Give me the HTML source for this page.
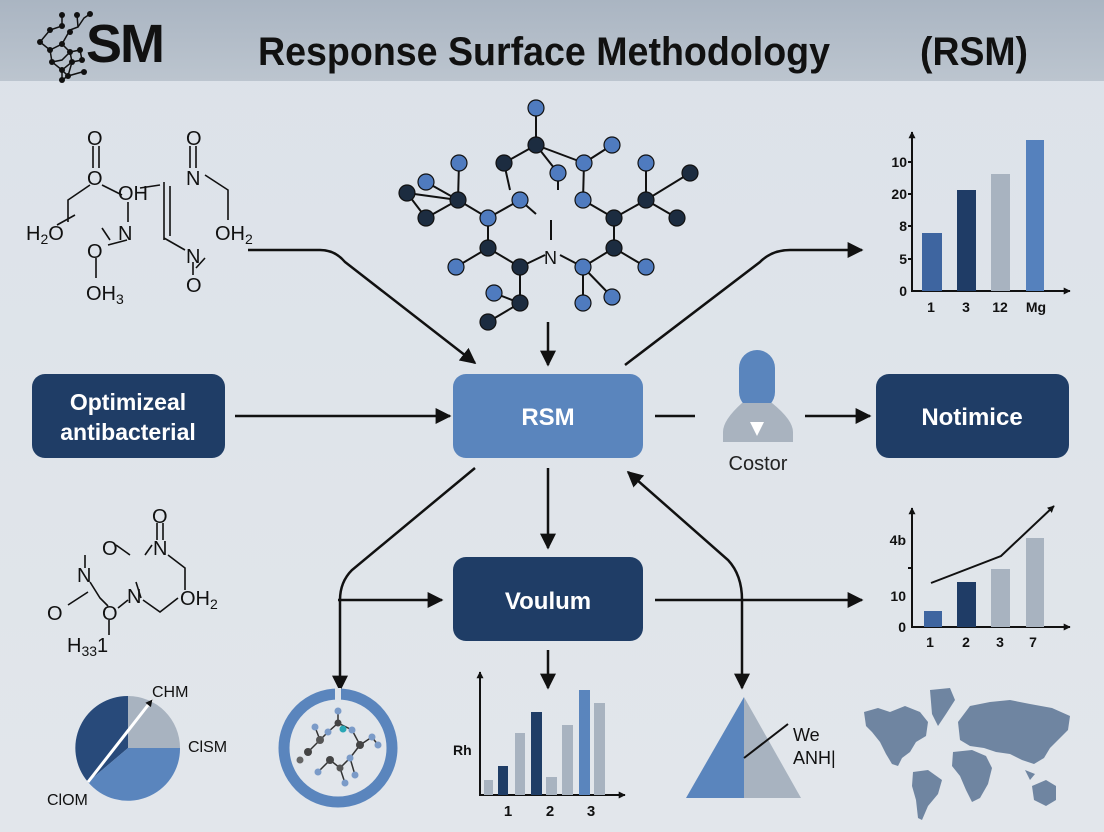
<!DOCTYPE html>
<html><head><meta charset="utf-8"><style>
html,body{margin:0;padding:0;width:1104px;height:832px;overflow:hidden;background:#dfe4ea}
svg{display:block}
text{font-family:"Liberation Sans",sans-serif}
</style></head><body>
<svg width="1104" height="832" viewBox="0 0 1104 832" xmlns="http://www.w3.org/2000/svg">
<defs>
<linearGradient id="hd" x1="0" y1="0" x2="0" y2="1"><stop offset="0" stop-color="#aab5c2"/><stop offset="1" stop-color="#bcc5cf"/></linearGradient>
<linearGradient id="bg" x1="0" y1="0" x2="0" y2="1"><stop offset="0" stop-color="#dce2e9"/><stop offset="1" stop-color="#e2e6eb"/></linearGradient>
<marker id="ah" viewBox="0 0 10 10" refX="9" refY="5" markerWidth="7" markerHeight="7" orient="auto-start-reverse" markerUnits="userSpaceOnUse"><path d="M0,0 L10,5 L0,10 z" fill="#111"/></marker>
<marker id="ab" viewBox="0 0 10 10" refX="9" refY="5" markerWidth="16" markerHeight="16" orient="auto-start-reverse" markerUnits="userSpaceOnUse"><path d="M0,0 L10,5 L0,10 z" fill="#111"/></marker>
</defs>
<rect width="1104" height="832" fill="url(#bg)"/>
<rect width="1104" height="81" fill="url(#hd)"/>
<!-- logo -->
<g stroke="#111" stroke-width="1.5" fill="none">
<path d="M62,15 L62,26 L50,30 L40,42 L50,50 L62,44 L70,30 M77,15 L78,27 L70,30 M90,14 L84,18 L78,27 M50,50 L52,62 L62,70 L62,80 M62,44 L70,52 L80,50 M52,62 L62,60 L70,52 L72,62 L62,70 L68,76 L72,62 M80,50 L82,60 L72,62 M62,80 L68,76 L82,72"/>
</g>
<g fill="#111">
<circle cx="62" cy="15" r="3"/><circle cx="77" cy="15" r="3"/><circle cx="90" cy="14" r="3"/><circle cx="62" cy="26" r="3"/><circle cx="50" cy="30" r="3"/><circle cx="70" cy="32" r="3"/><circle cx="40" cy="42" r="3"/><circle cx="50" cy="50" r="3"/><circle cx="62" cy="44" r="3"/><circle cx="80" cy="50" r="3"/><circle cx="52" cy="62" r="3"/><circle cx="70" cy="52" r="3"/><circle cx="72" cy="62" r="3"/><circle cx="62" cy="70" r="3"/><circle cx="82" cy="60" r="3"/><circle cx="68" cy="76" r="3"/><circle cx="62" cy="80" r="3"/><circle cx="84" cy="72" r="3"/>
</g>
<text x="86" y="62" font-size="54" font-weight="bold" fill="#111" letter-spacing="-2">SM</text>
<text x="258" y="65" font-size="40" fill="#111" font-weight="bold" textLength="572" lengthAdjust="spacingAndGlyphs">Response Surface Methodology</text>
<text x="920" y="65" font-size="40" fill="#111" font-weight="bold" textLength="108" lengthAdjust="spacingAndGlyphs">(RSM)</text>

<!-- top-left molecule -->
<g stroke="#111" stroke-width="1.6" fill="none">
<path d="M93,146 L93,168 M99,146 L99,168 M90,185 L68,200 L68,222 M102,185 L122,195 M128,202 L128,222 M102,228 L110,240 M127,240 L108,245 M96,258 L96,278 M140,188 L160,185 M164,182 L164,240 M170,186 L170,236 M164,238 L185,250 M190,146 L190,168 M196,146 L196,168 M205,175 L228,190 L228,220 M205,258 L196,268 M193,262 L193,275 M57,225 L75,215"/>
</g>
<g font-size="20" fill="#111">
<text x="87" y="145">O</text><text x="87" y="185">O</text><text x="118" y="200">OH</text><text x="186" y="185">N</text><text x="186" y="145">O</text>
<text x="26" y="240">H<tspan font-size="14" dy="4">2</tspan><tspan dy="-4">O</tspan></text><text x="118" y="240">N</text><text x="215" y="240">OH<tspan font-size="14" dy="4">2</tspan></text>
<text x="87" y="258">O</text><text x="186" y="263">N</text><text x="86" y="300">OH<tspan font-size="14" dy="4">3</tspan></text><text x="186" y="292">O</text>
</g>

<!-- top-center molecule -->
<g stroke="#111" stroke-width="2" fill="none">
<path d="M536,108 L536,145 L504,163 M536,145 L584,163 M536,145 L558,173 M612,145 L584,163 M584,163 L583,200 M558,173 L558,190 M646,163 L646,200 L690,173 M646,200 L677,218 M646,200 L614,218 M426,182 L458,200 L459,163 M407,193 L458,200 M426,218 L458,200 M407,193 L426,218 M458,200 L488,218 L520,200 M583,200 L614,218 M520,200 L536,214 M488,218 L488,248 L456,267 M488,248 L520,267 L545,255 M614,218 L614,248 L583,267 M614,248 L646,267 M560,255 L583,267 M551,240 L551,220 M520,267 L520,303 L494,293 M520,303 L488,322 M583,267 L583,303 M583,267 L612,297 M504,163 L510,190"/>
</g>
<text x="544" y="264" font-size="18" fill="#111">N</text>
<g stroke="#111" stroke-width="1.2">
<circle cx="536" cy="108" r="8" fill="#4f7bbf"/><circle cx="536" cy="145" r="8" fill="#1c2c40"/><circle cx="504" cy="163" r="8" fill="#1c2c40"/><circle cx="612" cy="145" r="8" fill="#4f7bbf"/><circle cx="584" cy="163" r="8" fill="#4f7bbf"/><circle cx="558" cy="173" r="8" fill="#4f7bbf"/><circle cx="646" cy="163" r="8" fill="#4f7bbf"/><circle cx="690" cy="173" r="8" fill="#1c2c40"/><circle cx="426" cy="182" r="8" fill="#4f7bbf"/><circle cx="459" cy="163" r="8" fill="#4f7bbf"/><circle cx="407" cy="193" r="8" fill="#1c2c40"/><circle cx="458" cy="200" r="8" fill="#1c2c40"/><circle cx="426" cy="218" r="8" fill="#1c2c40"/><circle cx="520" cy="200" r="8" fill="#4f7bbf"/><circle cx="583" cy="200" r="8" fill="#4f7bbf"/><circle cx="646" cy="200" r="8" fill="#1c2c40"/><circle cx="677" cy="218" r="8" fill="#1c2c40"/><circle cx="488" cy="218" r="8" fill="#4f7bbf"/><circle cx="614" cy="218" r="8" fill="#1c2c40"/><circle cx="488" cy="248" r="8" fill="#1c2c40"/><circle cx="520" cy="267" r="8" fill="#1c2c40"/><circle cx="614" cy="248" r="8" fill="#1c2c40"/><circle cx="583" cy="267" r="8" fill="#4f7bbf"/><circle cx="456" cy="267" r="8" fill="#4f7bbf"/><circle cx="646" cy="267" r="8" fill="#4f7bbf"/><circle cx="494" cy="293" r="8" fill="#4f7bbf"/><circle cx="520" cy="303" r="8" fill="#1c2c40"/><circle cx="583" cy="303" r="8" fill="#4f7bbf"/><circle cx="612" cy="297" r="8" fill="#4f7bbf"/><circle cx="488" cy="322" r="8" fill="#1c2c40"/>
</g>

<!-- top-right chart -->
<g stroke="#111" stroke-width="2" fill="none">
<path d="M912,292 L912,132" marker-end="url(#ah)"/><path d="M911,291 L1070,291" marker-end="url(#ah)"/>
<path d="M908,162 h4 M908,194 h4 M908,226 h4 M908,259 h4"/>
</g>
<rect x="922" y="233" width="20" height="58" fill="#3e65a0"/>
<rect x="957" y="190" width="19" height="101" fill="#1f3c66"/>
<rect x="991" y="174" width="19" height="117" fill="#a8b3c0"/>
<rect x="1026" y="140" width="18" height="151" fill="#5581bd"/>
<g font-size="14" fill="#111" font-weight="bold" text-anchor="end">
<text x="907" y="167">10</text><text x="907" y="199">20</text><text x="907" y="231">8</text><text x="907" y="264">5</text><text x="907" y="296">0</text></g>
<g font-size="14" fill="#111" font-weight="bold" text-anchor="middle">
<text x="931" y="312">1</text><text x="966" y="312">3</text><text x="1000" y="312">12</text><text x="1036" y="312">Mg</text></g>

<!-- boxes -->
<rect x="32" y="374" width="193" height="84" rx="13" fill="#1f3d66"/>
<text x="128" y="410" font-size="23" font-weight="bold" fill="#fff" text-anchor="middle">Optimizeal</text>
<text x="128" y="440" font-size="23" font-weight="bold" fill="#fff" text-anchor="middle">antibacterial</text>
<rect x="453" y="374" width="190" height="84" rx="13" fill="#5a85bd"/>
<text x="548" y="425" font-size="24" font-weight="bold" fill="#fff" text-anchor="middle">RSM</text>
<rect x="876" y="374" width="193" height="84" rx="13" fill="#1f3d66"/>
<text x="972" y="425" font-size="24" font-weight="bold" fill="#fff" text-anchor="middle">Notimice</text>
<rect x="453" y="557" width="190" height="84" rx="13" fill="#1f3d66"/>
<text x="548" y="609" font-size="24" font-weight="bold" fill="#fff" text-anchor="middle">Voulum</text>

<!-- person -->
<rect x="739" y="350" width="36" height="60" rx="18" fill="#5a85bd"/>
<path d="M742,403 L772,403 Q793,420 793,432 L793,442 L723,442 L723,432 Q723,420 742,403 Z" fill="#a9b3bf"/>
<path d="M750,422 L764,422 L757,436 Z" fill="#fff"/>
<text x="758" y="470" font-size="20" fill="#222" text-anchor="middle">Costor</text>

<!-- arrows -->
<g stroke="#111" stroke-width="2.5" fill="none">
<path d="M248,250 L320,250 Q335,250 345,262 L475,363" marker-end="url(#ab)"/>
<path d="M548,322 L548,365" marker-end="url(#ab)"/>
<path d="M625,365 L760,262 Q772,250 790,250 L862,250" marker-end="url(#ab)"/>
<path d="M235,416 L450,416" marker-end="url(#ab)"/>
<path d="M655,416 L695,416"/>
<path d="M805,416 L870,416" marker-end="url(#ab)"/>
<path d="M548,468 L548,548" marker-end="url(#ab)"/>
<path d="M475,468 L352,570 Q340,582 340,600 L340,690" marker-end="url(#ab)"/>
<path d="M338,600 L442,600" marker-end="url(#ab)"/>
<path d="M655,600 L862,600" marker-end="url(#ab)"/>
<path d="M548,650 L548,688" marker-end="url(#ab)"/>
<path d="M628,472 L728,560 Q742,575 742,600 L742,688" marker-end="url(#ab)" marker-start="url(#ab)"/>
</g>

<!-- bottom-left molecule -->
<g stroke="#111" stroke-width="1.6" fill="none">
<path d="M157,523 L157,540 M163,523 L163,540 M116,545 L130,555 M145,555 L152,545 M85,555 L85,568 M90,582 L100,598 L108,606 M88,592 L68,605 M118,608 L128,600 M141,598 L136,582 M168,555 L185,568 L185,590 M143,600 L160,612 L178,598 M109,620 L109,635"/>
</g>
<g font-size="20" fill="#111">
<text x="152" y="523">O</text><text x="102" y="555">O</text><text x="153" y="555">N</text><text x="77" y="582">N</text>
<text x="127" y="603">N</text><text x="180" y="605">OH<tspan font-size="14" dy="4">2</tspan></text><text x="47" y="620">O</text><text x="102" y="620">O</text>
<text x="67" y="652">H<tspan font-size="14" dy="4">33</tspan><tspan dy="-4">1</tspan></text>
</g>

<!-- pie -->
<path d="M128,748 L128,696 A52,52 0 0,0 88,782 Z" fill="#284a7a"/>
<path d="M128,748 L128,696 A52,52 0 0,1 180,748 Z" fill="#a8b3c0"/>
<path d="M128,748 L180,748 A52,52 0 0,1 88,782 Z" fill="#5a85bd"/>
<path d="M88,782 L152,700" stroke="#fff" stroke-width="3" marker-end="url(#ah)"/>
<text x="152" y="697" font-size="16" fill="#111">CHM</text>
<text x="188" y="752" font-size="16" fill="#111">ClSM</text>
<text x="47" y="805" font-size="16" fill="#111">ClOM</text>

<!-- circle -->
<circle cx="338" cy="748" r="54" fill="none" stroke="#5a85bd" stroke-width="11"/>
<rect x="335" y="688" width="6" height="14" fill="#dfe4ea"/>
<g stroke="#333" stroke-width="1.5" fill="none">
<path d="M338,711 L338,723 L328,732 L320,740 L308,752 M338,723 L352,730 L360,745 L350,758 L340,768 L330,760 M320,740 L315,727 M360,745 L372,737 L378,745 M350,758 L355,775 M330,760 L318,772 M340,768 L345,783"/>
</g>
<g stroke="none">
<circle cx="338" cy="711" r="3.5" fill="#7b9bc8"/><circle cx="338" cy="723" r="3.5" fill="#444"/><circle cx="328" cy="732" r="3.5" fill="#7b9bc8"/><circle cx="320" cy="740" r="4" fill="#555"/><circle cx="308" cy="752" r="4" fill="#444"/><circle cx="352" cy="730" r="3.5" fill="#7b9bc8"/><circle cx="343" cy="729" r="3.5" fill="#2aa7b5"/><circle cx="360" cy="745" r="4" fill="#444"/><circle cx="350" cy="758" r="3.5" fill="#7b9bc8"/><circle cx="340" cy="768" r="3.5" fill="#555"/><circle cx="330" cy="760" r="4" fill="#444"/><circle cx="315" cy="727" r="3.5" fill="#7b9bc8"/><circle cx="372" cy="737" r="3.5" fill="#7b9bc8"/><circle cx="378" cy="745" r="3.5" fill="#7b9bc8"/><circle cx="355" cy="775" r="3.5" fill="#7b9bc8"/><circle cx="318" cy="772" r="3.5" fill="#7b9bc8"/><circle cx="345" cy="783" r="3.5" fill="#7b9bc8"/><circle cx="300" cy="760" r="3.5" fill="#666"/>
</g>

<!-- bottom-center chart -->
<g stroke="#111" stroke-width="2" fill="none">
<path d="M480,796 L480,672" marker-end="url(#ah)"/><path d="M479,795 L625,795" marker-end="url(#ah)"/>
</g>
<rect x="484" y="780" width="9" height="15" fill="#a8b3c0"/>
<rect x="498" y="766" width="10" height="29" fill="#1f3d66"/>
<rect x="515" y="733" width="10" height="62" fill="#a8b3c0"/>
<rect x="531" y="712" width="11" height="83" fill="#1f3d66"/>
<rect x="546" y="777" width="11" height="18" fill="#a8b3c0"/>
<rect x="562" y="725" width="11" height="70" fill="#a8b3c0"/>
<rect x="579" y="690" width="11" height="105" fill="#5a85bd"/>
<rect x="594" y="703" width="11" height="92" fill="#a8b3c0"/>
<text x="453" y="755" font-size="14" font-weight="bold" fill="#111">Rh</text>
<g font-size="15" font-weight="bold" fill="#111" text-anchor="middle"><text x="508" y="816">1</text><text x="550" y="816">2</text><text x="591" y="816">3</text></g>

<!-- triangle -->
<path d="M744,697 L686,798 L744,798 Z" fill="#5a85bd"/>
<path d="M744,697 L801,798 L744,798 Z" fill="#a8b3c0"/>
<path d="M744,758 L788,724" stroke="#111" stroke-width="2"/>
<text x="793" y="741" font-size="18" fill="#111">We</text>
<text x="793" y="764" font-size="18" fill="#111">ANH|</text>

<!-- bottom-right chart -->
<g stroke="#111" stroke-width="2" fill="none">
<path d="M912,628 L912,508" marker-end="url(#ah)"/><path d="M911,627 L1070,627" marker-end="url(#ah)"/>
<path d="M908,568 h4"/>
<path d="M931,583 L1001,556 L1054,506" marker-end="url(#ah)"/>
</g>
<rect x="924" y="611" width="18" height="16" fill="#3e65a0"/>
<rect x="957" y="582" width="19" height="45" fill="#1f3c66"/>
<rect x="991" y="569" width="19" height="58" fill="#a8b3c0"/>
<rect x="1026" y="538" width="18" height="89" fill="#a8b3c0"/>
<g font-size="14" fill="#111" font-weight="bold" text-anchor="end"><text x="906" y="545">4b</text><text x="906" y="601">10</text><text x="906" y="632">0</text></g>
<g font-size="14" fill="#111" font-weight="bold" text-anchor="middle"><text x="930" y="647">1</text><text x="966" y="647">2</text><text x="1000" y="647">3</text><text x="1033" y="647">7</text></g>

<!-- world map -->
<g fill="#6f85a1">
<path d="M864,712 L878,708 L890,712 L905,706 L920,712 L928,722 L926,736 L916,742 L910,752 L902,758 L898,766 L892,764 L886,754 L880,742 L872,732 L866,726 Z"/>
<path d="M930,690 L950,688 L955,700 L946,714 L938,726 L932,714 Z"/>
<path d="M913,772 L928,770 L942,780 L938,794 L928,806 L922,820 L918,818 L916,800 L912,786 Z"/>
<path d="M958,722 L970,706 L990,702 L1010,700 L1030,704 L1052,708 L1070,716 L1068,730 L1058,740 L1050,748 L1044,758 L1034,764 L1022,760 L1010,754 L996,752 L984,748 L970,746 L960,740 Z"/>
<path d="M953,752 L972,750 L986,756 L992,768 L988,784 L980,798 L972,802 L966,790 L960,776 L952,766 Z"/>
<path d="M1032,786 L1046,780 L1056,786 L1056,800 L1046,806 L1034,800 Z"/>
<path d="M1025,770 L1035,774 L1030,780 Z"/>
</g>
</svg>
</body></html>
